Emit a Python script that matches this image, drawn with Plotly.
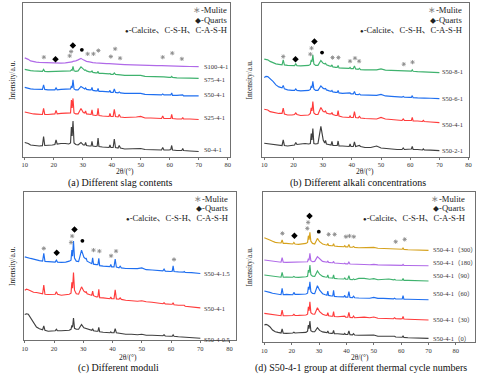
import plotly.graph_objects as go

W, H = 480, 377

# shared 2θ sampling (deg)
TWO_THETA = [10, 10.6, 11.2, 12, 13, 14, 15, 16.1, 16.5, 16.9,
             18, 19.5, 20.4, 20.8, 21.2, 22.5, 24, 25.2, 25.8, 26.1,
             26.35, 26.65, 27.0, 27.6, 28.4, 29.4, 30.2, 30.7, 31.0, 31.3,
             32.3, 32.9, 33.2, 33.5, 34.5, 35.0, 35.3, 35.6, 36.8, 38.2,
             39.1, 39.4, 39.7, 40.5, 40.9, 41.3, 42.2, 42.6, 43.0, 44.5,
             46.5, 48.5, 50.0, 51.5, 53.5, 55.5, 57.2, 57.6, 58.0, 59.8,
             60.4, 60.7, 61.0, 62.5, 64.2, 64.5, 64.8, 67, 70]

# ---- (a) different slag contents ----
A_S0 = [11.5, 11, 10.5, 9, 8.5, 8.2, 8, 8.3, 17.5, 8.5,
        8.5, 9, 9.5, 14, 9.8, 10.5, 10.5, 10, 11, 27,
        18, 33, 11, 9.5, 9, 11.5, 9, 9, 11.5, 8.5,
        8, 8, 12.5, 8, 7.5, 8, 16, 7.5, 7, 6.5,
        6.5, 9, 6.5, 6.5, 15, 6.5, 6, 8.5, 6, 5,
        5, 5.5, 5.5, 4.5, 4.5, 4, 4, 6.5, 4, 4,
        4.5, 8.5, 4, 3.5, 3.5, 5.5, 3.5, 3, 2.5]
A_S25 = [42, 41.5, 41, 40.5, 40, 39.8, 39.5, 39.5, 45.5, 39.5,
         39.5, 40, 40, 43.5, 40, 40.5, 40.5, 40.5, 41, 54,
         46, 55.5, 41, 40, 40, 45.5, 41.5, 41, 43, 40,
         39.5, 39.5, 44, 39, 38.5, 39, 45.5, 38.5, 38, 37.5,
         37.5, 40.5, 37.5, 37.5, 44.5, 37.5, 37, 39.5, 37, 36.5,
         36.5, 37, 37.5, 36, 36, 35.5, 35.5, 38, 35.5, 35.5,
         35.5, 39.5, 35.5, 35, 35, 36.5, 35, 35, 34.5]
A_S50 = [66.5, 66, 65.5, 65, 64.8, 64.5, 64.5, 64.5, 69, 64.5,
         64, 64, 64, 66, 64, 64.5, 64.5, 64.5, 65, 68,
         66, 74, 65, 64, 64, 67.5, 65.5, 65, 66, 64.5,
         64, 64, 66.5, 63.5, 63, 63, 65.5, 62.5, 62.5, 62,
         62, 63.5, 61.5, 61.5, 65, 61.5, 61, 62, 61, 60.5,
         60.5, 60, 60.5, 59.5, 59.5, 59, 59, 60, 59, 59,
         59, 61, 58.5, 58.5, 58.5, 59, 58, 58, 58]
A_S75 = [84.5, 84, 83.5, 83.3, 83, 82.8, 82.5, 82.5, 84.5, 82.5,
         82.3, 82.3, 82.3, 83, 82.3, 82.5, 82.5, 82.5, 83, 84,
         83.5, 87.5, 83, 82.5, 83, 87, 84.5, 83.5, 84, 83,
         82, 82, 83, 81.5, 81, 81, 82.5, 80.5, 80.5, 80,
         80, 80.5, 79.5, 79.5, 81, 79.5, 79, 79.5, 79, 78.5,
         78.5, 78, 78.5, 77.5, 77.5, 77, 77, 77.5, 77, 76.5,
         76.5, 77.5, 76.5, 76, 76, 76.5, 76, 75.8, 75.5]
A_S100 = [96, 95.5, 94.5, 93, 92, 91.7, 91.5, 91.3, 91.5, 91.2,
          91, 90.8, 90.8, 91, 90.8, 90.8, 91, 91.3, 91.5, 92,
          92, 92.5, 92.5, 93, 94, 95.5, 94, 93, 92.8, 92.5,
          92, 91.5, 91.5, 91.3, 91, 91, 91, 90.8, 90.5, 90.3,
          90.2, 90.2, 90, 90, 90.2, 89.8, 89.7, 89.7, 89.5, 89.3,
          89, 88.8, 88.8, 88.6, 88.5, 88.3, 88.2, 88.2, 88.1, 88,
          88, 88, 87.9, 87.8, 87.6, 87.6, 87.5, 87.4, 87.3]
A_NAMES = ["S0-4-1", "S25-4-1", "S50-4-1", "S75-4-1", "S100-4-1"]
A_LABEL_Y = [4, 36.5, 59, 74, 87.3]
A_MULLITE_X = [16.6, 25.5, 26.0, 31.7, 33.7, 35.4, 39.7, 41.2, 42.9, 57.6, 60.9, 64.2]
A_MULLITE_Y = [96.7, 98, 102.3, 100, 100, 103.3, 97.3, 105, 95.7, 96.7, 100.7, 95]
A_QUARTZ_X = [20.6, 26.6]
A_QUARTZ_Y = [94.7, 108.3]
A_CALCITE_X = [29.7]
A_CALCITE_Y = [104]

# ---- (b) different alkali concentrations ----
B_S2 = [10.7, 10.5, 10, 9.3, 9, 8.8, 8.7, 8.5, 14, 8.5,
        8, 8.5, 9, 11.5, 9.5, 10, 10.5, 10, 10.5, 20.5,
        14, 25.5, 10.5, 10, 10.5, 27.5, 14, 11, 13.5, 10,
        9.5, 9, 12.5, 8.5, 8.5, 8.5, 13, 8, 8, 7.5,
        7.5, 10, 7.5, 7.5, 12, 7.5, 8, 8.5, 7.5, 6.5,
        6.5, 8, 6, 5.5, 5, 4.5, 4.5, 6, 4.5, 4.5,
        5, 7.5, 4.5, 4.5, 4, 5, 4, 3.8, 3.3]
B_S4 = [44.7, 44.3, 44, 42.3, 41.5, 41, 40.5, 40.5, 45.7, 40,
        39, 39, 39.5, 41, 39.5, 38.5, 39, 39, 40.5, 46,
        43, 52.5, 41, 39.5, 39.5, 46.5, 42.5, 42, 43, 41,
        40, 40, 41.5, 39.5, 38.5, 38.5, 43.3, 38, 37, 36.5,
        36.5, 38, 36.5, 36.5, 42.3, 36.5, 36, 37.5, 36, 35.5,
        35, 35, 36.5, 35, 34.5, 34, 33.5, 35, 33.5, 33.5,
        33.5, 36.5, 33, 33, 32.5, 33.5, 32.5, 32, 31.3]
B_S6 = [76.5, 77.5, 77.3, 75.5, 72.5, 69, 67, 66, 68.5, 65,
        64, 63.5, 63.5, 65, 63.5, 63, 63, 63.5, 64.5, 68,
        66, 72.5, 65, 63.5, 63.5, 68, 65.5, 65, 65.5, 64,
        63, 62.5, 63.5, 62, 61.5, 61.5, 63.5, 61, 60.5, 60.5,
        60.3, 61, 60, 60, 62.5, 59.5, 59.3, 60, 59, 58.7,
        58.5, 58.5, 59.5, 58, 57.5, 57, 56.8, 57.5, 56.7, 56.5,
        56.5, 58.3, 56.3, 56, 56, 56.5, 55.8, 55.7, 55.3]
B_S8 = [94.7, 94.5, 94, 92.5, 91, 90, 89.5, 89, 94, 89,
        88.5, 88.3, 88.3, 90, 88.3, 88, 88.3, 88.5, 89.5, 94,
        92, 99, 90, 88.5, 88.5, 93.3, 90.5, 90, 90.5, 89,
        88, 87.5, 89, 87, 86.5, 86.5, 88.5, 86, 85.8, 85.7,
        85.5, 86.5, 85.3, 85.3, 88, 85, 84.5, 85.5, 84.3, 84,
        84, 84, 85, 83.8, 83.5, 83.3, 83, 83.5, 83, 82.8,
        82.8, 84, 82.6, 82.3, 82, 82.5, 81.8, 81.6, 81.3]
B_NAMES = ["S50-2-1", "S50-4-1", "S50-6-1", "S50-8-1"]
B_LABEL_Y = [3, 29, 55, 82.3]
B_MULLITE_X = [16.5, 25.8, 26.2, 33.4, 35.4, 39.4, 41.1, 42.5, 57.8, 60.8]
B_MULLITE_Y = [97.3, 99.7, 105.7, 96.3, 96.3, 92.7, 95.7, 92.7, 89.7, 91.7]
B_QUARTZ_X = [20.7, 27.2]
B_QUARTZ_Y = [94.7, 112.3]
B_CALCITE_X = [29.8]
B_CALCITE_Y = [101.3]

# ---- (c) different moduli ----
C_M05 = [25.7, 26.5, 26, 22.3, 16.7, 13.3, 11.5, 10.5, 14.3, 10,
         9, 9, 9.5, 11, 9.5, 9.5, 10, 10, 11, 15,
         13, 22.3, 12, 11, 11, 15.7, 12.5, 12, 12, 11,
         10.5, 10, 11.5, 9.5, 9, 9, 13, 8.5, 8, 7.5,
         7.5, 8.5, 7.5, 7.5, 11.7, 7.5, 7, 7.5, 7, 6,
         6, 5.5, 6, 5, 5, 4.5, 4.5, 5.5, 4.3, 4,
         4, 5.5, 4, 3.5, 3, 3.5, 2.8, 2.5, 2]
C_M1 = [50, 51, 50.5, 49, 48, 47.7, 47, 46.5, 55, 46,
        45.7, 45.5, 46, 48.5, 46, 45, 45.5, 46, 47, 58,
        52, 67.7, 50, 46.5, 46, 53.3, 49, 48, 48.5, 46.5,
        45.5, 45, 49, 44.5, 43.3, 43.5, 51, 42.5, 42.3, 41.7,
        41.5, 43.3, 41.5, 41.5, 50.3, 41.3, 41, 42.3, 40.8, 40,
        39.5, 39, 39.5, 38.5, 38, 37.5, 36.5, 37.5, 36.3, 36,
        36, 37.5, 35.5, 35, 34.5, 35, 34, 33.5, 32.3]
C_M15 = [83.3, 83, 82.5, 81.7, 81, 80, 79.5, 79, 86.7, 78.7,
         78.3, 78, 78, 80, 78, 77.7, 78, 79, 80, 90,
         84, 99, 82, 79, 78.5, 90, 83, 81.5, 81.7, 79,
         77, 76.5, 82.3, 76, 75.5, 75.5, 81.7, 74.5, 74, 73.7,
         73.5, 75.7, 73.3, 73.3, 81, 73, 72.3, 74, 72.3, 71.7,
         71.5, 71.5, 72.3, 70.5, 70.2, 69.5, 69.3, 71, 69, 68.7,
         69, 74.3, 68.7, 68.3, 68, 68.7, 67.8, 67.5, 66.7]
C_NAMES = ["S50-4-0.5", "S50-4-1", "S50-4-1.5"]
C_LABEL_Y = [1, 31.7, 66.7]
C_MULLITE_X = [16.5, 25.8, 26.2, 33.5, 35.5, 39.5, 41.2, 61.0]
C_MULLITE_Y = [91.7, 97.7, 104, 90, 89, 84.3, 89, 80.7]
C_QUARTZ_X = [20.9, 27.0]
C_QUARTZ_Y = [87.3, 110.7]
C_CALCITE_X = [29.7]
C_CALCITE_Y = [99.3]

# ---- (d) thermal cycle numbers ----
D_N0 = [16.7, 17.3, 16.7, 15, 11.7, 10, 9.3, 8.7, 12.7, 8.5,
        8.3, 8.3, 8.7, 9.5, 8.7, 9, 9.3, 9.3, 10.5, 16.7,
        13, 20.7, 11, 10, 10, 14, 11.3, 10.5, 10.5, 9.8,
        9.3, 9, 10.7, 8.7, 8.3, 8.5, 11.3, 8, 8, 7.5,
        7.3, 8.3, 7.2, 7.2, 10.7, 7, 6.8, 8, 6.7, 6.5,
        6.3, 6.2, 6.7, 5.5, 5.3, 5, 4.8, 5.5, 4.7, 4.5,
        4.5, 6, 4.3, 4, 3.8, 4.3, 3.7, 3.5, 3.3]
D_N30 = [28.3, 28, 27.7, 27.3, 26.8, 26.7, 26.3, 26, 31.7, 26,
         26, 26, 26.2, 27.3, 26.2, 26.3, 26.5, 26.7, 27.5, 35,
         31, 40, 29, 27.7, 27.5, 34, 30, 29, 29, 27.5,
         26.5, 26.3, 29, 26, 25.5, 25.5, 30, 25.2, 25, 25,
         24.8, 25.5, 24.5, 24.5, 29.3, 24.3, 24, 25.7, 24, 24.3,
         24.5, 24, 24.7, 23.5, 23.3, 23.3, 23, 24, 23, 22.8,
         23, 25.3, 22.7, 22.5, 22.3, 22.7, 22.2, 22, 21.7]
D_N60 = [50.7, 50.5, 50, 49.3, 48.5, 48, 47.3, 47, 53.3, 47,
         47.3, 47, 47, 49.3, 47.3, 47.3, 47.5, 47.7, 48.5, 55,
         52, 60, 50, 48.3, 48, 56, 51.5, 50, 49.3, 48,
         47, 46.5, 50.7, 46.3, 45.7, 45.7, 51.3, 45.3, 45, 45,
         44.8, 46.3, 44.6, 44.6, 50, 44.3, 44, 45.5, 44, 43.7,
         43.7, 43.5, 44.3, 43.3, 43.3, 43, 42.8, 43.5, 42.7, 42.7,
         42.8, 46, 42.5, 42.5, 42.3, 42.7, 42.2, 42.2, 42]
D_N90 = [66.7, 66.5, 66.3, 66, 65.5, 65, 64.8, 64.5, 69.3, 64.5,
         64.7, 64.5, 64.5, 65.3, 64.5, 64.3, 64.5, 65, 65.5, 71.7,
         69, 76.7, 67, 65.5, 65.3, 70.7, 67.5, 66.5, 66, 65.3,
         64.7, 64.5, 66.7, 64, 63.7, 63.5, 66.7, 63.3, 63, 62.8,
         62.7, 63.7, 62.5, 62.5, 66, 62.3, 62, 62.8, 62, 63.3,
         63.3, 62.5, 63, 62, 62, 62.7, 61.8, 62.3, 61.7, 61.5,
         61.5, 63.3, 61.3, 61.3, 61, 61.3, 61, 60.8, 60.7]
D_N180 = [81.7, 81.5, 81.3, 80.7, 80.3, 80, 79.8, 79.5, 84, 79.5,
          79.3, 79.3, 79.3, 80, 79.3, 79.3, 79.3, 79.3, 80, 83,
          81.5, 88.3, 81, 80, 80.3, 85, 82.5, 81.5, 81, 80.3,
          79.7, 79.5, 80.5, 79.3, 79, 79, 80.3, 78.7, 78.5, 78,
          78, 78.5, 77.8, 77.8, 79.5, 77.7, 77.5, 78, 77.3, 77.3,
          77.2, 77, 77.3, 76.8, 76.7, 76.7, 76.5, 76.8, 76.5, 76.3,
          76.3, 77.3, 76.3, 76.2, 76, 76.3, 76, 76, 76]
D_N300 = [104, 103.5, 103, 101.7, 100.5, 99.3, 99, 98.7, 101.7, 98.3,
          98.3, 98, 97.7, 99.3, 97.7, 97.3, 97.7, 98.3, 99.3, 106,
          102, 109.3, 100.5, 98.3, 97.7, 103.3, 100, 99, 98.3, 97.7,
          97, 96.7, 98.3, 96.3, 96, 96, 98, 95.7, 95.3, 95,
          95, 96, 94.8, 94.8, 97.3, 94.6, 94.5, 95.3, 94.3, 94,
          94, 93.8, 94.3, 93.5, 93.3, 93, 92.8, 93.3, 92.7, 92.5,
          92.5, 94, 92.3, 92, 91.8, 92.2, 91.7, 91.5, 91.3]
D_NAMES = ["S50-4-1（0）", "S50-4-1（30）", "S50-4-1（60）",
           "S50-4-1（90）", "S50-4-1（180）", "S50-4-1（300）"]
D_LABEL_Y = [3.3, 22.3, 48.3, 65.7, 79.3, 91.7]
D_MULLITE_X = [16.6, 25.7, 26.0, 33.5, 35.7, 39.8, 41.1, 42.7, 58.0, 61.3]
D_MULLITE_Y = [108.3, 113.3, 119.3, 107.3, 107.3, 105, 105.7, 105, 100, 102.3]
D_QUARTZ_X = [21.0, 26.5]
D_QUARTZ_Y = [106, 125.7]
D_CALCITE_X = [29.9]
D_CALCITE_Y = [110]

CAPTIONS = ["(a) Different slag contents", "(b) Different alkali concentrations",
            "(c) Different moduli", "(d) S50-4-1 group at different thermal cycle numbers"]
KEY = ["<span style='color:#888'>∗</span>-Mulite",
       "<span style='font-size:6px'>◆</span>-Quarts",
       "<span style='font-size:6px'>●</span>-Calcite、C-S-H、C-A-S-H"]

BLACK = "#3f3f3f"
RED = "#ff3b3b"
BLUE = "#1f6ff0"
GREEN = "#3fb26e"
PURPLE = "#b06ae8"
GOLD = "#d6a21e"

SERIF = "Liberation Serif, Times New Roman, Noto Sans CJK SC, serif"

# pixel boxes of the four plot areas: left, right, top, bottom, x range, y range
panels = [
    dict(box=(21.7, 230, 3.3, 156.5), xr=[9.56, 80.68], yr=[-2.5, 150.5],
         series=[A_S0, A_S25, A_S50, A_S75, A_S100], colors=[BLACK, RED, BLUE, GREEN, PURPLE],
         names=A_NAMES, label_y=A_LABEL_Y, label_x=71.1,
         mul=(A_MULLITE_X, A_MULLITE_Y), qua=(A_QUARTZ_X, A_QUARTZ_Y), cal=(A_CALCITE_X, A_CALCITE_Y),
         leg_right=229, cap_x=120, cap_y=183, xt=(124, 171), yt=(10, 80)),
    dict(box=(263, 472, 3.3, 156.5), xr=[9.32, 80.17], yr=[-2.5, 150.5],
         series=[B_S2, B_S4, B_S6, B_S8], colors=[BLACK, RED, BLUE, GREEN],
         names=B_NAMES, label_y=B_LABEL_Y, label_x=70.3,
         mul=(B_MULLITE_X, B_MULLITE_Y), qua=(B_QUARTZ_X, B_QUARTZ_Y), cal=(B_CALCITE_X, B_CALCITE_Y),
         leg_right=467, cap_x=360, cap_y=183, xt=(367, 171), yt=(250, 80)),
    dict(box=(22, 236, 191.7, 340.3), xr=[9.66, 82.03], yr=[0, 148.3],
         series=[C_M05, C_M1, C_M15], colors=[BLACK, RED, BLUE],
         names=C_NAMES, label_y=C_LABEL_Y, label_x=70.5,
         mul=(C_MULLITE_X, C_MULLITE_Y), qua=(C_QUARTZ_X, C_QUARTZ_Y), cal=(C_CALCITE_X, C_CALCITE_Y),
         leg_right=230, cap_x=118, cap_y=368, xt=(127, 357), yt=(10, 266)),
    dict(box=(264, 478, 191.7, 341.7), xr=[9.6, 87.0], yr=[0, 150],
         series=[D_N0, D_N30, D_N60, D_N90, D_N180, D_N300],
         colors=[BLACK, RED, BLUE, GREEN, PURPLE, GOLD],
         names=D_NAMES, label_y=D_LABEL_Y, label_x=70.9,
         mul=(D_MULLITE_X, D_MULLITE_Y), qua=(D_QUARTZ_X, D_QUARTZ_Y), cal=(D_CALCITE_X, D_CALCITE_Y),
         leg_right=470, cap_x=363, cap_y=368, xt=(362, 357), yt=(250, 267)),
]


def px(x):
    return x / W


def py(y):
    return 1 - y / H


fig = go.Figure()
annotations = []
layout_axes = {}

for i, p in enumerate(panels):
    n = "" if i == 0 else str(i + 1)
    xa, ya = "x" + n, "y" + n
    left, right, top, bottom = p["box"]

    for ys, col in zip(p["series"], p["colors"]):
        fig.add_trace(go.Scatter(x=TWO_THETA, y=ys, mode="lines", xaxis=xa, yaxis=ya,
                                 line=dict(color=col, width=1.15), hoverinfo="skip"))

    # phase markers
    fig.add_trace(go.Scatter(x=p["mul"][0], y=p["mul"][1], mode="markers", xaxis=xa, yaxis=ya,
                             marker=dict(symbol="asterisk-open", size=3.5, color="#8c8c8c",
                                         line=dict(width=0.9, color="#8c8c8c")), hoverinfo="skip"))
    fig.add_trace(go.Scatter(x=p["qua"][0], y=p["qua"][1], mode="markers", xaxis=xa, yaxis=ya,
                             marker=dict(symbol="diamond", size=5, color="black"), hoverinfo="skip"))
    fig.add_trace(go.Scatter(x=p["cal"][0], y=p["cal"][1], mode="markers", xaxis=xa, yaxis=ya,
                             marker=dict(symbol="circle", size=3.8, color="black"), hoverinfo="skip"))

    # curve labels
    for name, ly in zip(p["names"], p["label_y"]):
        annotations.append(dict(x=p["label_x"], y=ly, xref=xa, yref=ya, text=name,
                                showarrow=False, xanchor="left", yanchor="middle",
                                font=dict(family=SERIF, size=6.5, color="#333")))

    # phase key
    for k, t in enumerate(KEY):
        annotations.append(dict(x=px(p["leg_right"]), y=py(top + 6.8 + 9.8 * k),
                                xref="paper", yref="paper", text=t, showarrow=False,
                                xanchor="right", yanchor="middle",
                                font=dict(family=SERIF, size=8.6, color="#222")))

    # axis titles and caption
    annotations.append(dict(x=px(p["xt"][0]), y=py(p["xt"][1]), xref="paper", yref="paper",
                            text="2θ/(°)", showarrow=False, xanchor="center", yanchor="middle",
                            font=dict(family=SERIF, size=7.5, color="#222")))
    annotations.append(dict(x=px(p["yt"][0]), y=py(p["yt"][1]), xref="paper", yref="paper",
                            text="Intensity/a.u.", textangle=-90, showarrow=False,
                            xanchor="center", yanchor="middle",
                            font=dict(family=SERIF, size=7.5, color="#222")))
    annotations.append(dict(x=px(p["cap_x"]), y=py(p["cap_y"]), xref="paper", yref="paper",
                            text=CAPTIONS[i], showarrow=False, xanchor="center", yanchor="middle",
                            font=dict(family=SERIF, size=10, color="#111")))

    axis_style = dict(showline=True, mirror=True, linecolor="#707070", linewidth=1,
                      showgrid=False, zeroline=False)
    layout_axes["xaxis" + n] = dict(axis_style, domain=[px(left), px(right)], range=p["xr"],
                                    anchor=ya, ticks="outside", ticklen=2, tickcolor="#707070",
                                    tickvals=[10, 20, 30, 40, 50, 60, 70, 80],
                                    tickfont=dict(family=SERIF, size=6.5, color="#333"))
    layout_axes["yaxis" + n] = dict(axis_style, domain=[py(bottom), py(top)], range=p["yr"],
                                    anchor=xa, showticklabels=False, ticks="")

fig.update_layout(
    width=W, height=H,
    margin=dict(l=0, r=0, t=0, b=0),
    paper_bgcolor="white", plot_bgcolor="white",
    showlegend=False,
    hovermode=False,
    annotations=annotations,
    **layout_axes,
)

# drop the default page margin so the figure sits at the window's top-left corner
fig.write_html("out.html", config={"displayModeBar": False},
               post_script="document.body.style.margin='0';")
